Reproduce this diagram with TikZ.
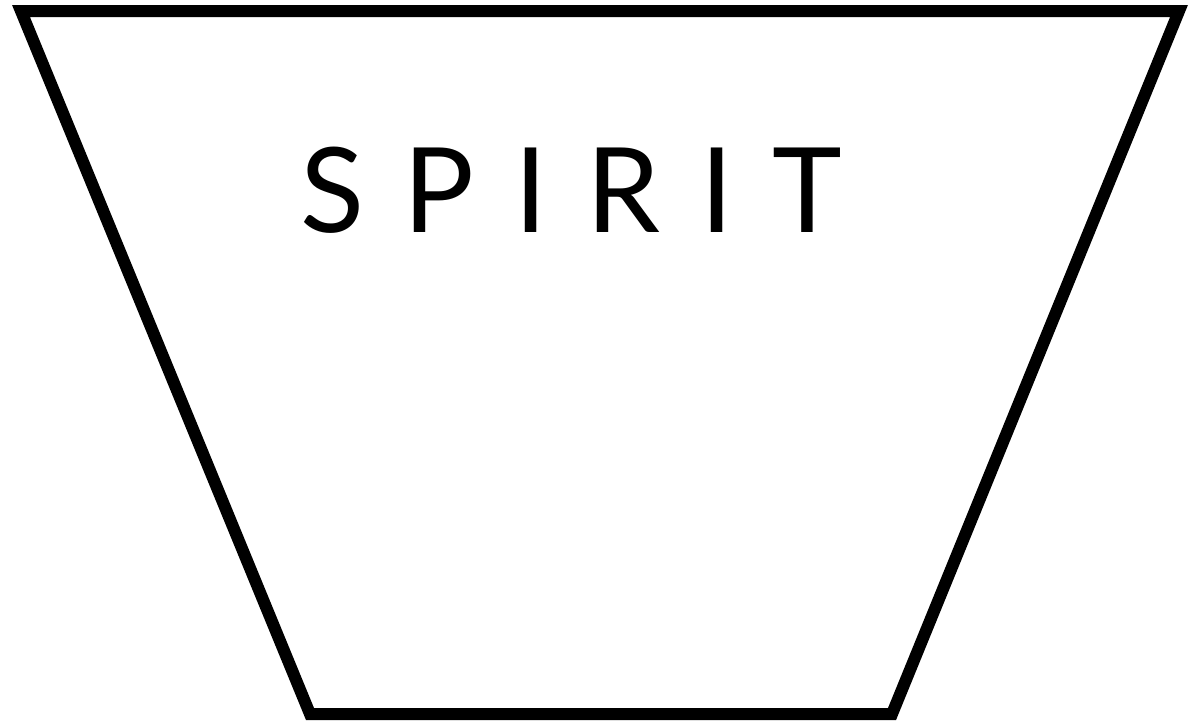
\documentclass[tikz,border=0pt]{standalone}
\usepackage{fontspec}
\setmainfont{Lato}
\usepackage{tikz}

\begin{document}
\begin{tikzpicture}[
    x=1pt, y=-1pt,
    frame/.style={draw=black, line width=12pt, miter limit=10},
    title/.style={font=\fontsize{118}{118}\selectfont\addfontfeature{LetterSpace=33.5}, inner sep=0pt, anchor=base west}
  ]
    \useasboundingbox (0,0) rectangle (1191,721);

    %% ---- trapezoid outline ----
    \coordinate (tl) at (21,11);
    \coordinate (tr) at (1179,11);
    \coordinate (br) at (892,714);
    \coordinate (bl) at (310,714);
    \draw[frame] (tl) -- (tr) -- (br) -- (bl) -- cycle;

    %% ---- label ----
    \node[title] (spirit) at (300,232) {SPIRIT};
\end{tikzpicture}
\end{document}
